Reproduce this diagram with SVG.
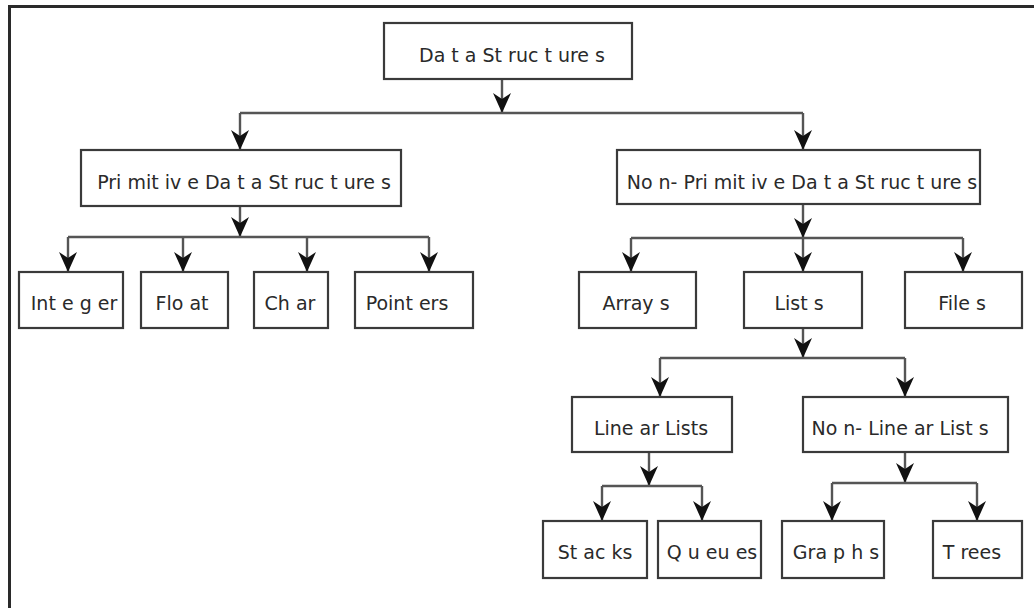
<svg xmlns="http://www.w3.org/2000/svg" width="1034" height="608" viewBox="0 0 1034 608">
<style>
.box{fill:#fff;stroke:#3a3a3a;stroke-width:2.2}
.lbl{font-family:"DejaVu Sans",Verdana,sans-serif;font-size:19px;fill:#2a2a2a;text-anchor:middle}
.c{fill:none;stroke:#555;stroke-width:2.4}
.a{marker-end:url(#arr)}
.frame{stroke:#2a2a2a;stroke-width:3;fill:none}
</style>
<defs>
<marker id="arr" markerUnits="userSpaceOnUse" markerWidth="22" markerHeight="22" viewBox="0 -11 22 22" refX="20" refY="0" orient="auto">
<path d="M0,-9 L20,0 L0,9 L6,0 Z" fill="#111"/>
</marker>
</defs>
<rect width="1034" height="608" fill="#fff"/>
<path class="frame" d="M9.5,608 V6.5 H1034"/>
<g id="connectors">
<path class="c a" d="M502,79 V113"/>
<path class="c" d="M240,113 H803"/>
<path class="c a" d="M240,113 V150"/>
<path class="c a" d="M803,113 V150"/>
<path class="c a" d="M240,206 V237"/>
<path class="c" d="M68,237 H429"/>
<path class="c a" d="M68,237 V272"/>
<path class="c a" d="M183,237 V272"/>
<path class="c a" d="M307,237 V272"/>
<path class="c a" d="M429,237 V272"/>
<path class="c a" d="M803,204 V238"/>
<path class="c" d="M631,238 H963"/>
<path class="c a" d="M631,238 V272"/>
<path class="c a" d="M803,238 V272"/>
<path class="c a" d="M963,238 V272"/>
<path class="c a" d="M803,328 V358"/>
<path class="c" d="M660,358 H905"/>
<path class="c a" d="M660,358 V397"/>
<path class="c a" d="M905,358 V397"/>
<path class="c a" d="M649,452 V486"/>
<path class="c" d="M602,486 H702"/>
<path class="c a" d="M602,486 V521"/>
<path class="c a" d="M702,486 V521"/>
<path class="c a" d="M905,452 V483"/>
<path class="c" d="M832,483 H977"/>
<path class="c a" d="M832,483 V521"/>
<path class="c a" d="M977,483 V521"/>
</g>
<g id="root"><rect class="box" x="384" y="23" width="248" height="56"/><text class="lbl" x="512" y="62">Da t a St ruc t ure s</text></g>
<g id="primitive"><rect class="box" x="81" y="150" width="320" height="56"/><text class="lbl" x="244" y="189">Pri mit iv e Da t a St ruc t ure s</text></g>
<g id="nonprimitive"><rect class="box" x="617" y="150" width="363" height="54"/><text class="lbl" x="802" y="189">No n- Pri mit iv e Da t a St ruc t ure s</text></g>
<g id="integer"><rect class="box" x="19" y="272" width="104" height="56"/><text class="lbl" x="74" y="310">Int e g er</text></g>
<g id="float"><rect class="box" x="141" y="272" width="87" height="56"/><text class="lbl" x="182" y="310">Flo at</text></g>
<g id="char"><rect class="box" x="254" y="272" width="74" height="56"/><text class="lbl" x="290" y="310">Ch ar</text></g>
<g id="pointers"><rect class="box" x="355" y="272" width="118" height="56"/><text class="lbl" x="407" y="310">Point ers</text></g>
<g id="arrays"><rect class="box" x="579" y="272" width="117" height="56"/><text class="lbl" x="636" y="310">Array s</text></g>
<g id="lists"><rect class="box" x="744" y="272" width="118" height="56"/><text class="lbl" x="799" y="310">List s</text></g>
<g id="files"><rect class="box" x="905" y="272" width="117" height="56"/><text class="lbl" x="962" y="310">File s</text></g>
<g id="linearlists"><rect class="box" x="572" y="397" width="160" height="55"/><text class="lbl" x="651" y="435">Line ar Lists</text></g>
<g id="nonlinearlists"><rect class="box" x="803" y="397" width="205" height="55"/><text class="lbl" x="900" y="435">No n- Line ar List s</text></g>
<g id="stacks"><rect class="box" x="543" y="521" width="104" height="57"/><text class="lbl" x="595" y="559">St ac ks</text></g>
<g id="queues"><rect class="box" x="658" y="521" width="103" height="57"/><text class="lbl" x="712" y="559">Q u eu es</text></g>
<g id="graphs"><rect class="box" x="782" y="521" width="102" height="57"/><text class="lbl" x="836" y="559">Gra p h s</text></g>
<g id="trees"><rect class="box" x="933" y="521" width="89" height="57"/><text class="lbl" x="972" y="559">T rees</text></g>
</svg>
